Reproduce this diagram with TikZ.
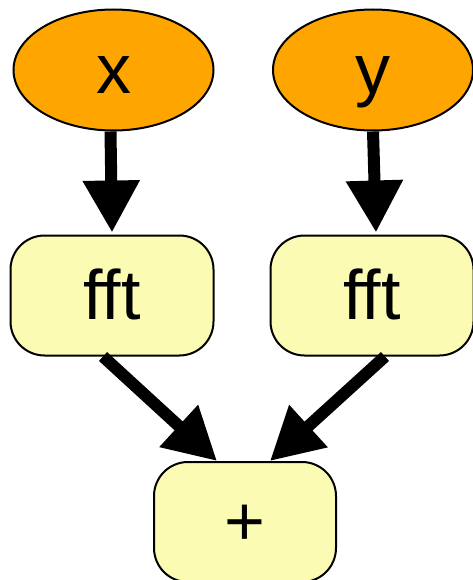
\documentclass[tikz,border=0pt]{standalone}
\usepackage{fontspec}
\setmainfont{Liberation Sans}
\usetikzlibrary{shapes.geometric,arrows.meta,calc}
\definecolor{inorange}{HTML}{FFA500}
\definecolor{opyellow}{HTML}{FBFBB3}
\begin{document}
\begin{tikzpicture}[x=1pt,y=-1pt,
  txt/.style={text height=47pt,text depth=0pt,font=\fontsize{70}{84}\selectfont},
  innode/.style={ellipse,draw=black,line width=2pt,fill=inorange,minimum width=200pt,minimum height=121pt,inner sep=0pt,txt},
  opnode/.style={rectangle,rounded corners=34pt,draw=black,line width=2pt,fill=opyellow,minimum width=203pt,minimum height=120pt,inner sep=0pt,txt},
  conn/.style={line width=12pt,-{Triangle[length=52pt,width=54pt]}}]
\useasboundingbox (0,0) rectangle (472,580);
\node[innode] (x) at (113.5,70) {x};
\node[innode] (y) at (373,70) {y};
\node[opnode] (fx) at (112,295.5) {fft};
\node[opnode] (fy) at (372,295.5) {fft};
\node[opnode, minimum width=182pt] (plus) at (245,522) {+};
\draw[conn] ($(x.south)+(-3,0)$) -- ($(fx.north)+(0,-2)$);
\draw[conn] (y.south) -- ($(fy.north)+(4,-2)$);
\draw[conn] ($(fx.south)+(-9,0)$) -- ($(plus.north)+(-28,0)$);
\draw[conn] ($(fy.south)+(13,0)$) -- ($(plus.north)+(25,0)$);
\end{tikzpicture}
\end{document}
